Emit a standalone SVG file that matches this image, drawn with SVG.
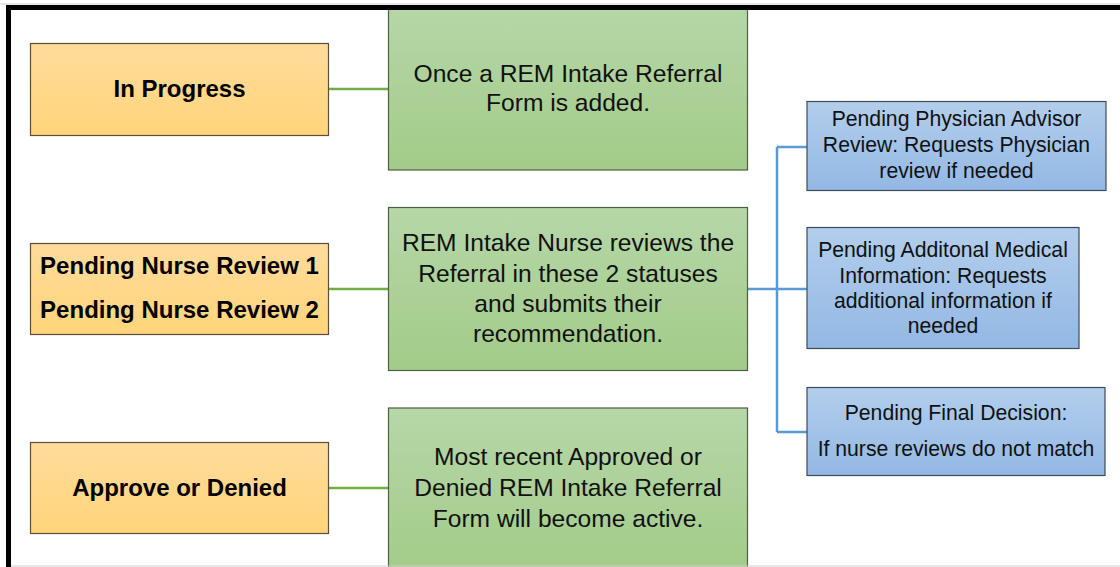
<svg xmlns="http://www.w3.org/2000/svg" width="1120" height="567" viewBox="0 0 1120 567">
  <defs>
    <linearGradient id="gOrange" x1="0" y1="0" x2="0" y2="1">
      <stop offset="0" stop-color="#FFDC9C"/>
      <stop offset="1" stop-color="#FFD47A"/>
    </linearGradient>
    <linearGradient id="gGreen" x1="0" y1="0" x2="0" y2="1">
      <stop offset="0" stop-color="#B6D7A8"/>
      <stop offset="1" stop-color="#A2CB88"/>
    </linearGradient>
    <linearGradient id="gBlue" x1="0" y1="0" x2="0" y2="1">
      <stop offset="0" stop-color="#B3CEEC"/>
      <stop offset="1" stop-color="#93B8E4"/>
    </linearGradient>
    <style>
      .status { fill: url(#gOrange); stroke: #5A4E34; stroke-width: 1.2; }
      .desc { fill: url(#gGreen); stroke: #4F5F45; stroke-width: 1.2; }
      .sub { fill: url(#gBlue); stroke: #3E4A58; stroke-width: 1.2; }
      .lbl-b { font-family: "Liberation Sans", Arial, sans-serif; font-weight: bold; font-size: 24px; fill: #000; text-anchor: middle; }
      .lbl-g { font-family: "Liberation Sans", Arial, sans-serif; font-size: 24.6px; fill: #111; text-anchor: middle; }
      .lbl-s { font-family: "Liberation Sans", Arial, sans-serif; font-size: 21.2px; fill: #111; text-anchor: middle; }
      .green-link { stroke: #70AD47; stroke-width: 2.5; fill: none; }
      .blue-link { stroke: #5B9BD5; stroke-width: 2.5; fill: none; }
    </style>
  </defs>

  <rect x="0" y="0" width="1120" height="567" fill="#FFFFFF"/>

  <!-- connectors -->
  <g id="connectors">
    <line class="green-link" x1="329" y1="89" x2="388" y2="89"/>
    <line class="green-link" x1="329" y1="289" x2="388" y2="289"/>
    <line class="green-link" x1="329" y1="488" x2="388" y2="488"/>
    <path class="blue-link" d="M747,289 H777 M777,147 V432 M777,147 H807 M777,289 H807 M777,432 H807"/>
  </g>

  <!-- status column -->
  <g id="in-progress">
    <rect class="status" x="30.5" y="43.5" width="298" height="92"/>
    <text class="lbl-b" x="179.5" y="97">In Progress</text>
  </g>
  <g id="pending-nurse-review">
    <rect class="status" x="30.5" y="243.5" width="298" height="91"/>
    <text class="lbl-b" x="179.5" y="274">Pending Nurse Review 1</text>
    <text class="lbl-b" x="179.5" y="318">Pending Nurse Review 2</text>
  </g>
  <g id="approve-or-denied">
    <rect class="status" x="30.5" y="442.5" width="298" height="91"/>
    <text class="lbl-b" x="179.5" y="496">Approve or Denied</text>
  </g>

  <!-- description column -->
  <g id="desc-in-progress">
    <rect class="desc" x="388.5" y="7" width="359" height="163"/>
    <text class="lbl-g" x="568" y="82">Once a REM Intake Referral</text>
    <text class="lbl-g" x="568" y="111">Form is added.</text>
  </g>
  <g id="desc-nurse-review">
    <rect class="desc" x="388.5" y="207.5" width="359" height="163"/>
    <text class="lbl-g" x="568" y="251">REM Intake Nurse reviews the</text>
    <text class="lbl-g" x="568" y="282">Referral in these 2 statuses</text>
    <text class="lbl-g" x="568" y="312">and submits their</text>
    <text class="lbl-g" x="568" y="342">recommendation.</text>
  </g>
  <g id="desc-approve-denied">
    <rect class="desc" x="388.5" y="408" width="359" height="170"/>
    <text class="lbl-g" x="568" y="465">Most recent Approved or</text>
    <text class="lbl-g" x="568" y="496">Denied REM Intake Referral</text>
    <text class="lbl-g" x="568" y="527">Form will become active.</text>
  </g>

  <!-- review sub-statuses -->
  <g id="pending-physician-advisor">
    <rect class="sub" x="807" y="101.5" width="299" height="89"/>
    <text class="lbl-s" x="956.5" y="126">Pending Physician Advisor</text>
    <text class="lbl-s" x="956.5" y="152">Review: Requests Physician</text>
    <text class="lbl-s" x="956.5" y="178">review if needed</text>
  </g>
  <g id="pending-additional-info">
    <rect class="sub" x="807" y="227.5" width="272" height="121"/>
    <text class="lbl-s" x="943" y="257">Pending Additonal Medical</text>
    <text class="lbl-s" x="943" y="283">Information: Requests</text>
    <text class="lbl-s" x="943" y="308">additional information if</text>
    <text class="lbl-s" x="943" y="333">needed</text>
  </g>
  <g id="pending-final-decision">
    <rect class="sub" x="807" y="387.5" width="298" height="88"/>
    <text class="lbl-s" x="956" y="420">Pending Final Decision:</text>
    <text class="lbl-s" x="956" y="456">If nurse reviews do not match</text>
  </g>

  <!-- page frame -->
  <g id="frame">
    <line x1="0" y1="4" x2="1120" y2="4" stroke="#D0D0D0" stroke-width="1"/>
    <line x1="11" y1="566" x2="1120" y2="566" stroke="#D0D0D0" stroke-width="1.2"/>
    <path d="M8.5,567 V7.5 H1120" stroke="#000" stroke-width="5" fill="none"/>
  </g>
</svg>
